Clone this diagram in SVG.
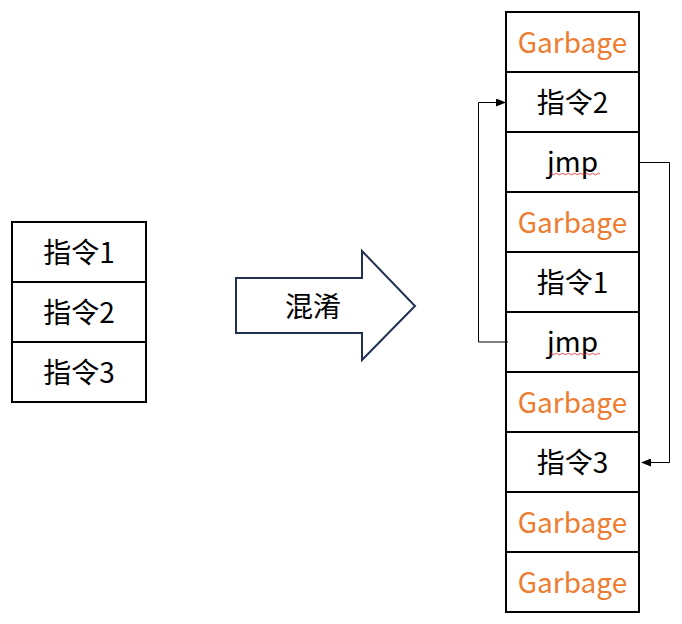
<svg xmlns="http://www.w3.org/2000/svg" width="682" height="624" viewBox="0 0 682 624">
<style>
.cell{fill:#fff;stroke:#000;stroke-width:2}
.t{font-family:"Noto Sans CJK SC","Liberation Sans",sans-serif;font-size:28px;text-anchor:middle;dominant-baseline:central;fill:#000}
.g{fill:#ED7D31}
.conn{fill:none;stroke:#000;stroke-width:1}
.sq{fill:none;stroke:#E02020;stroke-width:0.8}
</style>
<defs>
<marker id="ah" markerWidth="10" markerHeight="8" refX="9" refY="4" orient="auto" markerUnits="userSpaceOnUse">
<path d="M0,0 L10,4 L0,8 Z" fill="#000"/>
</marker>
</defs>
<rect width="682" height="624" fill="#fff"/>
<g id="left-stack">
<g id="l1"><rect class="cell" x="12" y="222" width="134" height="60"/><text class="t" x="79" y="251">指令1</text></g>
<g id="l2"><rect class="cell" x="12" y="282" width="134" height="60"/><text class="t" x="79" y="311">指令2</text></g>
<g id="l3"><rect class="cell" x="12" y="342" width="134" height="60"/><text class="t" x="79" y="371">指令3</text></g>
</g>
<g id="big-arrow">
<path d="M236,278 L362,278 L362,251 L415,306 L362,360 L362,333 L236,333 Z" fill="#fff" stroke="#1F3050" stroke-width="2" stroke-linejoin="miter"/>
<text class="t" x="313" y="305">混淆</text>
</g>
<g id="right-stack">
<g id="r1"><rect class="cell" x="506" y="12" width="133" height="60"/><text class="t g" x="572.5" y="41">Garbage</text></g>
<g id="r2"><rect class="cell" x="506" y="72" width="133" height="60"/><text class="t" x="572.5" y="101">指令2</text></g>
<g id="r3"><rect class="cell" x="506" y="132" width="133" height="60"/><text class="t" x="572.5" y="160">jmp</text>
<path class="sq" d="M549,174 q1.5,-1.5 3,0 t3,0 t3,0 t3,0 t3,0 t3,0 t3,0 t3,0 t3,0 t3,0 t3,0 t3,0 t3,0 t3,0 t3,0 t3,0 t3,0"/></g>
<g id="r4"><rect class="cell" x="506" y="192" width="133" height="60"/><text class="t g" x="572.5" y="221">Garbage</text></g>
<g id="r5"><rect class="cell" x="506" y="252" width="133" height="60"/><text class="t" x="572.5" y="281">指令1</text></g>
<g id="r6"><rect class="cell" x="506" y="312" width="133" height="60"/><text class="t" x="572.5" y="340">jmp</text>
<path class="sq" d="M549,354 q1.5,-1.5 3,0 t3,0 t3,0 t3,0 t3,0 t3,0 t3,0 t3,0 t3,0 t3,0 t3,0 t3,0 t3,0 t3,0 t3,0 t3,0 t3,0"/></g>
<g id="r7"><rect class="cell" x="506" y="372" width="133" height="60"/><text class="t g" x="572.5" y="401">Garbage</text></g>
<g id="r8"><rect class="cell" x="506" y="432" width="133" height="60"/><text class="t" x="572.5" y="461">指令3</text></g>
<g id="r9"><rect class="cell" x="506" y="492" width="133" height="60"/><text class="t g" x="572.5" y="521">Garbage</text></g>
<g id="r10"><rect class="cell" x="506" y="552" width="133" height="60"/><text class="t g" x="572.5" y="581">Garbage</text></g>
</g>
<g id="connectors">
<path class="conn" d="M508,342 H478.5 V102.5 H505" marker-end="url(#ah)"/>
<path class="conn" d="M640,162.5 H669.5 V462.5 H642" marker-end="url(#ah)"/>
</g>
</svg>
